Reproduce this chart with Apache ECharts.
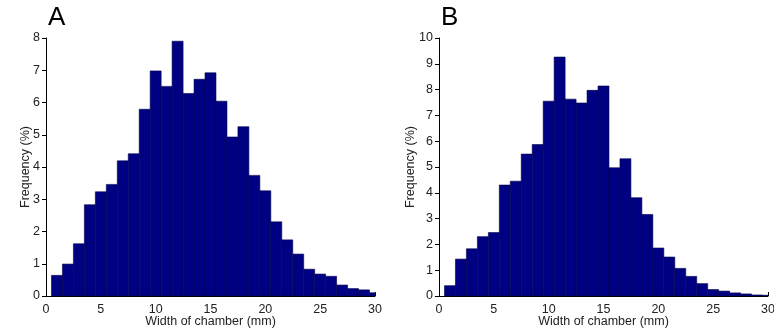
<!DOCTYPE html>
<html>
<head>
<meta charset="utf-8">
<script src="https://cdn.jsdelivr.net/npm/echarts@6/dist/echarts.min.js"></script>
<style>html,body{margin:0;padding:0;background:#fff}#c{width:774px;height:329px}</style>
</head>
<body>
<div id="c"></div>
<script>
// Bin centres (mm), 1 mm wide bins
const binCenters = [1,2,3,4,5,6,7,8,9,10,11,12,13,14,15,16,17,18,19,20,21,22,23,24,25,26,27,28,29,30];
// Panel A frequencies (%)
const freqA = [0.64,0.99,1.62,2.83,3.23,3.46,4.19,4.41,5.79,6.98,6.50,7.90,6.28,6.72,6.92,6.04,4.93,5.25,3.74,3.26,2.30,1.74,1.30,0.83,0.68,0.61,0.34,0.23,0.19,0.10];
// Panel B frequencies (%)
const freqB = [0.40,1.43,1.83,2.30,2.46,4.30,4.45,5.50,5.87,7.55,9.26,7.63,7.48,7.97,8.14,4.97,5.32,3.81,3.16,1.86,1.51,1.07,0.76,0.48,0.25,0.19,0.12,0.08,0.04,0.03];
const xTicks = [0,5,10,15,20,25,30];
const panelLabels = ['A','B'];
const xTitle = 'Width of chamber (mm)';
const yTitle = 'Frequency (%)';

const chart = echarts.init(document.getElementById('c'));
const font = 'Liberation Sans, Arial, Helvetica, sans-serif';
const txt = '#222';

function renderBar(params, api) {
  const c = api.value(0), v = api.value(1);
  const p1 = api.coord([c - 0.5, v]);
  const p2 = api.coord([c + 0.5, 0]);
  const rect = echarts.graphic.clipRectByRect(
    {x: p1[0], y: p1[1], width: p2[0] - p1[0], height: p2[1] - p1[1]},
    {x: params.coordSys.x, y: params.coordSys.y, width: params.coordSys.width, height: params.coordSys.height + 1}
  );
  return rect && {type: 'rect', shape: rect, style: {fill: '#000083', stroke: '#00004a', lineWidth: 0.6}};
}

function xAxis(idx) {
  return {
    type: 'value', gridIndex: idx, min: 0, max: 30, interval: 5,
    name: xTitle, nameLocation: 'middle', nameGap: 19, nameMoveOverlap: false,
    nameTextStyle: {color: txt, fontSize: 12.5, fontFamily: font},
    axisLine: {show: true, lineStyle: {color: '#000', width: 1}},
    axisTick: {show: true, inside: true, length: 4, lineStyle: {color: '#000'}},
    axisLabel: {color: txt, fontSize: 12.5, fontFamily: font, margin: 7},
    splitLine: {show: false}
  };
}
function yAxis(idx, max, gap) {
  return {
    type: 'value', gridIndex: idx, min: 0, max: max, interval: 1,
    name: yTitle, nameLocation: 'middle', nameGap: gap, nameRotate: 90, nameMoveOverlap: false,
    nameTextStyle: {color: txt, fontSize: 12.5, fontFamily: font},
    axisLine: {show: true, lineStyle: {color: '#000', width: 1}},
    axisTick: {show: true, length: 4, lineStyle: {color: '#000'}},
    axisLabel: {color: txt, fontSize: 12.5, fontFamily: font, margin: 6},
    splitLine: {show: false}
  };
}

chart.setOption({
  animation: false,
  backgroundColor: '#fff',
  title: [
    {text: panelLabels[0], left: 43, top: 0, textStyle: {fontSize: 26, fontWeight: 'normal', color: '#000', fontFamily: font}},
    {text: panelLabels[1], left: 436, top: 0, textStyle: {fontSize: 26, fontWeight: 'normal', color: '#000', fontFamily: font}}
  ],
  grid: [
    {left: 46, right: 399, top: 38, bottom: 33, outerBoundsMode: 'none', containLabel: false},
    {left: 439, right: 6, top: 38, bottom: 33, outerBoundsMode: 'none', containLabel: false}
  ],
  xAxis: [xAxis(0), xAxis(1)],
  yAxis: [yAxis(0, 8, 14), yAxis(1, 10, 22)],
  series: [
    {type: 'custom', xAxisIndex: 0, yAxisIndex: 0, renderItem: renderBar, clip: true,
     data: binCenters.map((c, i) => [c, freqA[i]])},
    {type: 'custom', xAxisIndex: 1, yAxisIndex: 1, renderItem: renderBar, clip: true,
     data: binCenters.map((c, i) => [c, freqB[i]])}
  ]
});
</script>
</body>
</html>
